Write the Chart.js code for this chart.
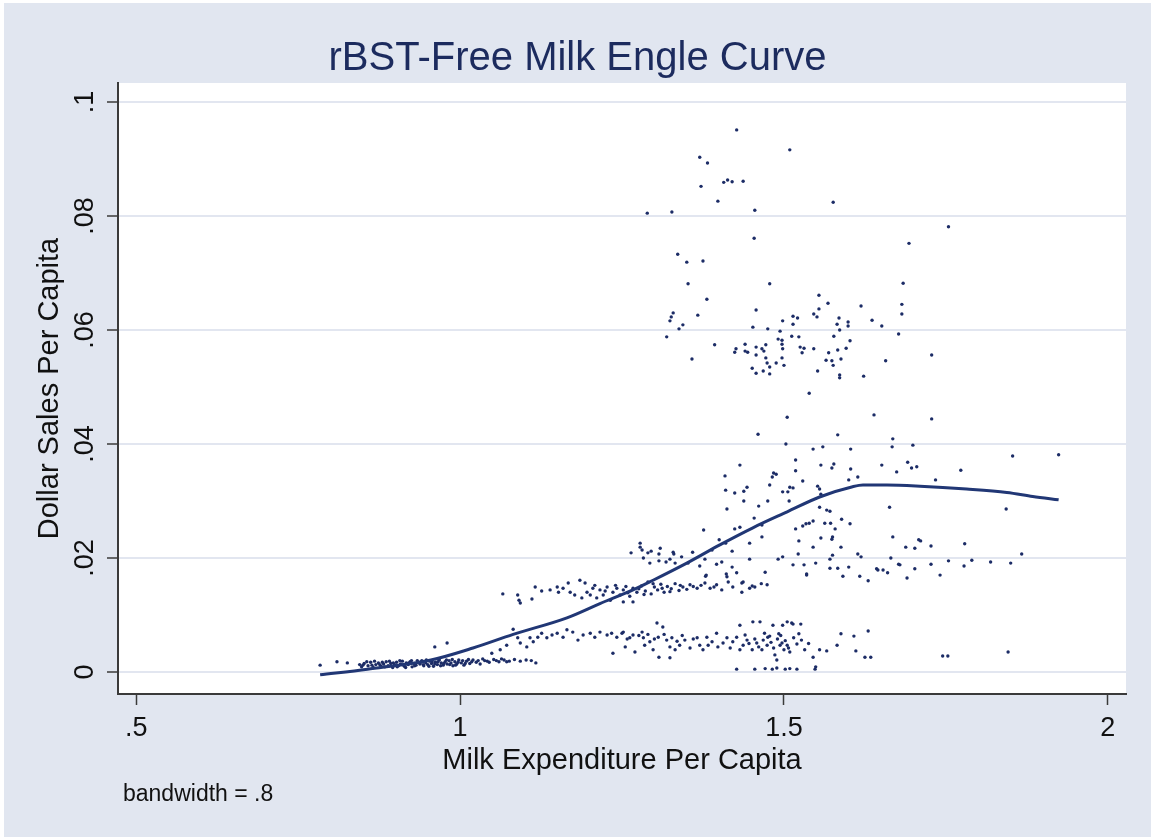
<!DOCTYPE html>
<html>
<head>
<meta charset="utf-8">
<title>rBST-Free Milk Engle Curve</title>
<script src="https://cdn.jsdelivr.net/npm/chart.js@4.4.1/dist/chart.umd.min.js"></script>
<style>
  html, body { margin: 0; padding: 0; background: #ffffff; }
  #chart { display: block; }
</style>
</head>
<body>
<canvas id="chart" width="1151" height="837"></canvas>
<script>
// scatter points (milk expenditure per capita, dollar sales per capita)
const milkExpenditure = [
  1.427,1.509,1.370,1.382,1.372,1.407,1.413,1.420,1.437,1.398,1.576,1.289,1.327,1.455,1.754,1.454,1.693,1.336,1.350,1.375,1.352,1.478,1.684,1.381,1.682,1.682,1.554,1.568,1.619,1.329,
  1.326,1.324,1.367,1.344,1.338,1.319,1.457,1.554,1.546,1.551,1.514,1.521,1.498,1.514,1.585,1.599,1.599,1.582,1.636,1.651,1.452,1.475,1.494,1.586,1.677,1.512,1.523,1.577,1.491,1.497,
  1.602,1.393,1.440,1.472,1.497,1.525,1.531,1.426,1.457,1.466,1.498,1.546,1.596,1.583,1.424,1.440,1.444,1.469,1.457,1.528,1.569,1.358,1.472,1.497,1.565,1.574,1.588,1.657,1.728,1.488,
  1.474,1.500,1.576,1.478,1.451,1.468,1.457,1.478,1.552,1.586,1.586,1.623,1.539,1.505,1.639,1.728,
  1.699,1.691,1.697,1.705,1.853,1.924,1.773,1.734,1.843,1.708,1.711,1.688,1.702,1.727,1.779,1.867,1.754,1.790,1.819,1.850,1.778,1.727,1.702,1.679,1.741,1.690,
  1.460,1.583,1.503,1.668,1.545,1.560,1.603,1.667,1.432,1.518,1.557,1.577,1.574,1.651,1.518,1.603,1.674,1.484,1.488,1.482,1.409,1.529,1.614,1.600,1.478,1.443,1.509,1.514,1.552,1.555,
  1.410,1.438,1.498,1.506,1.424,1.557,1.438,1.475,1.508,1.461,1.555,1.663,1.412,1.566,1.571,1.454,1.589,1.529,1.534,1.539,1.545,1.563,1.572,1.602,1.466,1.432,1.424,1.518,1.579,1.376,
  1.668,1.466,1.557,1.575,1.574,1.400,1.410,1.447,1.523,1.545,1.588,1.420,1.522,1.614,1.575,1.619,1.665,1.491,1.498,1.447,1.571,1.549,1.514,1.531,1.571,1.600,1.583,1.677,1.643,1.653,
  1.660,1.471,1.427,1.535,1.591,1.617,1.630,1.645,
  1.264,1.278,1.278,1.281,1.290,1.295,1.309,1.307,1.329,1.330,1.283,1.293,1.307,1.318,1.324,1.332,1.342,1.359,1.378,1.389,1.352,1.370,1.396,1.404,1.420,1.379,1.412,
  1.066,1.089,1.091,1.093,1.111,1.116,1.126,1.139,1.150,1.152,1.159,1.167,1.170,1.177,1.185,1.188,1.193,1.196,1.201,1.205,1.211,1.216,1.221,1.227,1.232,1.236,1.242,1.247,1.252,1.259,
  1.267,1.273,1.252,1.267,1.280,1.286,1.290,1.295,1.300,1.305,1.310,1.315,1.320,1.326,1.332,1.338,1.344,1.355,1.366,1.378,1.386,1.396,1.404,1.414,1.421,1.435,1.435,1.447,1.455,1.474,
  1.437,1.451,1.465,1.380,1.411,1.535,
  1.208,1.224,1.240,1.256,1.262,1.276,1.284,1.298,1.312,1.324,1.340,1.350,1.360,1.372,1.392,
  1.049,1.062,1.072,1.082,1.089,1.093,1.103,1.108,1.113,1.120,1.126,1.134,1.142,1.150,1.159,1.165,1.174,1.182,1.190,1.201,1.208,1.216,1.227,1.234,1.242,1.250,1.255,1.236,1.267,1.270,
  1.252,1.262,1.281,1.283,1.293,1.304,1.306,1.313,1.319,1.327,1.324,1.298,1.285,1.332,1.339,1.347,1.355,1.366,1.370,1.375,1.381,1.383,1.389,1.396,1.398,1.406,1.412,1.417,1.421,1.427,
  1.432,1.437,1.443,1.451,1.452,1.463,1.458,1.466,1.474,1.475,1.483,1.486,1.497,1.498,1.505,1.512,1.500,1.489,1.432,1.307,1.324,1.514,1.526,1.478,1.492,1.523,1.494,1.505,1.509,1.532,
  1.545,1.555,1.566,1.582,1.588,1.608,1.611,1.630,1.625,1.634,1.745,1.753,1.846,
  1.440,1.446,1.455,1.461,1.468,1.470,1.480,1.484,1.490,1.495,1.502,1.507,1.515,1.520,1.527,1.538,
  1.258,1.276,1.290,1.300,1.315,1.335,1.343,1.360,
  1.427,1.455,1.471,1.482,1.489,1.502,1.509,1.520,1.548,1.549,
  0.784,0.810,0.826,0.845,0.848,0.852,0.858,0.862,0.866,0.870,0.874,0.878,0.882,0.886,0.889,0.893,0.896,0.899,0.902,0.905,0.908,0.911,0.914,0.917,0.920,0.923,0.926,0.929,0.932,0.935,
  0.938,0.941,0.944,0.947,0.950,0.953,0.956,0.959,0.962,0.965,0.968,0.971,0.974,0.977,0.980,0.983,0.986,0.989,0.992,0.995,0.998,1.002,1.006,1.010,1.015,1.020,1.025,1.031,1.038,1.045,
  1.052,1.060,1.068,1.076,1.084,1.093,1.102,1.110,1.117,0.961,0.980,
  0.850,0.856,0.864,0.868,0.876,0.880,0.884,0.891,0.897,0.903,0.907,0.912,0.916,0.921,0.925,0.930,0.934,0.939,0.943,0.948,
  0.952,0.957,0.961,0.966,0.970,0.975,0.979,0.984,0.988,0.993,0.997,1.004,1.008,1.013,1.018,1.028,1.035,1.042,1.056,1.064,1.072
];
const dollarSales = [
  .0951,.0916,.0903,.0893,.0852,.0859,.0863,.0860,.0861,.0826,.0824,.0805,.0807,.0810,.0781,.0761,.0752,.0733,.0719,.0721,.0681,.0681,.0682,.0654,.0645,.0628,.0661,.0647,.0642,.0630,
  .0623,.0616,.0626,.0609,.0602,.0588,.0635,.0637,.0628,.0623,.0624,.0621,.0616,.0610,.0621,.0614,.0607,.0610,.0617,.0607,.0605,.0602,.0598,.0600,.0593,.0589,.0588,.0589,.0584,.0582,
  .0581,.0574,.0575,.0574,.0575,.0570,.0568,.0567,.0570,.0567,.0567,.0567,.0568,.0565,.0561,.0563,.0561,.0563,.0556,.0560,.0560,.0549,.0551,.0551,.0547,.0546,.0549,.0546,.0556,.0542,
  .0542,.0538,.0538,.0535,.0533,.0528,.0524,.0523,.0528,.0521,.0516,.0519,.0489,.0447,.0451,.0444,
  .0398,.0368,.0358,.0360,.0379,.0381,.0354,.0337,.0286,.0232,.0230,.0219,.0217,.0221,.0225,.0207,.0195,.0196,.0193,.0191,.0186,.0189,.0181,.0188,.0170,.0165,
  .0417,.0416,.0400,.0409,.0391,.0395,.0391,.0395,.0363,.0372,.0363,.0365,.0358,.0363,.0353,.0356,.0351,.0349,.0347,.0342,.0344,.0335,.0342,.0337,.0328,.0324,.0324,.0323,.0326,.0321,
  .0319,.0317,.0316,.0316,.0314,.0312,.0300,.0300,.0300,.0291,.0289,.0289,.0286,.0284,.0282,.0270,.0268,.0256,.0260,.0261,.0265,.0261,.0261,.0260,.0258,.0254,.0251,.0251,.0251,.0249,
  .0237,.0237,.0235,.0237,.0233,.0232,.0226,.0226,.0230,.0219,.0219,.0212,.0207,.0207,.0205,.0202,.0200,.0198,.0202,.0198,.0198,.0191,.0188,.0188,.0182,.0184,.0182,.0189,.0181,.0179,
  .0174,.0175,.0174,.0172,.0168,.0168,.0160,.0179,
  .0209,.0226,.0219,.0214,.0209,.0212,.0217,.0207,.0210,.0207,.0200,.0191,.0195,.0193,.0198,.0191,.0202,.0210,.0198,.0214,.0191,.0186,.0189,.0193,.0184,.0168,.0167,
  .0137,.0135,.0126,.0121,.0128,.0149,.0142,.0144,.0149,.0140,.0147,.0156,.0140,.0135,.0161,.0130,.0156,.0140,.0135,.0147,.0130,.0144,.0135,.0149,.0126,.0140,.0147,.0135,.0144,.0139,
  .0147,.0140,.0123,.0123,.0151,.0142,.0158,.0137,.0149,.0144,.0154,.0140,.0150,.0146,.0155,.0143,.0149,.0153,.0147,.0156,.0147,.0153,.0144,.0158,.0149,.0140,.0156,.0147,.0149,.0153,
  .0158,.0151,.0155,.0170,.0172,.0170,
  .0152,.0142,.0152,.0150,.0133,.0146,.0136,.0155,.0147,.0141,.0152,.0145,.0150,.0152,.0149,
  .0033,.0039,.0047,.0075,.0060,.0051,.0044,.0060,.0053,.0061,.0068,.0060,.0065,.0068,.0061,.0074,.0070,.0056,.0065,.0068,.0061,.0070,.0065,.0068,.0061,.0068,.0044,.0033,.0065,.0035,
  .0070,.0060,.0070,.0060,.0053,.0086,.0061,.0079,.0056,.0060,.0044,.0039,.0047,.0039,.0047,.0056,.0042,.0060,.0047,.0039,.0061,.0047,.0053,.0068,.0044,.0051,.0060,.0042,.0053,.0061,
  .0039,.0047,.0056,.0039,.0088,.0088,.0051,.0039,.0047,.0061,.0082,.0030,.0051,.0082,.0088,.0086,.0039,.0021,.0082,.0026,.0025,.0084,.0084,.0063,.0067,.0067,.0047,.0047,.0035,.0039,
  .0026,.0039,.0037,.0047,.0067,.0063,.0037,.0072,.0026,.0026,.0028,.0028,.0035,
  .0065,.0050,.0058,.0044,.0056,.0068,.0052,.0042,.0058,.0064,.0055,.0042,.0060,.0049,.0056,.0050,
  .0058,.0064,.0066,.0058,.0066,.0054,.0064,.0058,
  .0005,.0005,.0006,.0005,.0007,.0005,.0006,.0005,.0005,.0009,
  .0012,.0018,.0016,.0013,.0009,.0015,.0011,.0017,.0008,.0013,.0016,.0010,.0014,.0018,.0011,.0015,.0008,.0013,.0017,.0011,.0014,.0019,.0010,.0016,.0013,.0018,.0009,.0015,.0012,.0017,
  .0014,.0020,.0011,.0016,.0013,.0019,.0015,.0010,.0017,.0013,.0021,.0016,.0012,.0018,.0014,.0020,.0016,.0011,.0018,.0014,.0021,.0016,.0012,.0019,.0015,.0021,.0017,.0014,.0020,.0017,
  .0022,.0018,.0021,.0019,.0022,.0019,.0021,.0020,.0016,.0044,.0051,
  .0012,.0018,.0012,.0019,.0013,.0017,.0009,.0019,.0016,.0009,.0020,.0013,.0008,.0016,.0020,.0011,.0020,.0017,.0013,.0021,
  .0010,.0018,.0014,.0018,.0011,.0015,.0021,.0013,.0022,.0012,.0017,.0020,.0015,.0022,.0018,.0020,.0023,.0019,.0020,.0023,.0018
];

// lowess smooth (bandwidth .8)
const lowessX = [0.784,0.857,0.955,1.020,1.082,1.165,1.216,1.267,1.298,1.350,1.401,1.452,1.505,1.555,1.606,1.622,1.659,1.710,1.782,1.844,1.884,1.924];
const lowessY = [-0.0005,0.0005,0.0021,0.0042,0.0066,0.0095,0.0120,0.0144,0.0161,0.0191,0.0223,0.0253,0.0281,0.0307,0.0325,0.0328,0.0328,0.0326,0.0321,0.0315,0.0308,0.0302];

const xTickValues = [0.5, 1, 1.5, 2];
const xTickLabels = ['.5', '1', '1.5', '2'];
const yTickValues = [0, 0.02, 0.04, 0.06, 0.08, 0.1];
const yTickLabels = ['0', '.02', '.04', '.06', '.08', '.1'];

const FONT = "'Liberation Sans', Arial, Helvetica, sans-serif";
Chart.defaults.font.family = FONT;

const scatterPoints = milkExpenditure.map((x, i) => ({ x: x, y: dollarSales[i] }));
const lowessPoints = lowessX.map((x, i) => ({ x: x, y: lowessY[i] }));

// background, plot region, note under the axis
const stataLook = {
  id: 'stataLook',
  beforeDraw(chart) {
    const ctx = chart.ctx;
    const a = chart.chartArea;
    ctx.save();
    ctx.fillStyle = '#ffffff';
    ctx.fillRect(0, 0, chart.width, chart.height);
    ctx.fillStyle = '#e1e6f0';
    ctx.fillRect(4, 3, chart.width - 4, chart.height - 3);
    ctx.fillStyle = '#ffffff';
    ctx.fillRect(a.left, a.top, a.right - a.left, a.bottom - a.top);
    ctx.restore();
  },
  afterDraw(chart) {
    const ctx = chart.ctx;
    ctx.save();
    ctx.fillStyle = '#111111';
    ctx.font = '23px ' + FONT;
    ctx.textAlign = 'left';
    ctx.textBaseline = 'alphabetic';
    ctx.fillText('bandwidth = .8', 123, 801);
    ctx.restore();
  }
};

new Chart(document.getElementById('chart'), {
  type: 'scatter',
  data: {
    datasets: [
      {
        type: 'line',
        data: lowessPoints,
        borderColor: '#213775',
        borderWidth: 3,
        pointRadius: 0,
        fill: false,
        cubicInterpolationMode: 'monotone',
        order: 0
      },
      {
        data: scatterPoints,
        backgroundColor: '#1c2c66',
        borderWidth: 0,
        pointRadius: 1.7,
        order: 1
      }
    ]
  },
  options: {
    responsive: false,
    animation: false,
    layout: { padding: { left: 29, right: 25, top: 0, bottom: 56 } },
    plugins: {
      legend: { display: false },
      tooltip: { enabled: false },
      title: {
        display: true,
        text: 'rBST-Free Milk Engle Curve',
        color: '#1c2b5e',
        font: { size: 40, weight: 'normal' },
        padding: { top: 35, bottom: 0 }
      }
    },
    scales: {
      x: {
        type: 'linear',
        min: 0.472,
        max: 2.028,
        afterBuildTicks: s => { s.ticks = xTickValues.map(v => ({ value: v })); },
        afterFit: s => { s.height = 87; },
        grid: { drawOnChartArea: false, tickLength: 11, tickColor: '#3a3a3a', tickWidth: 1.5 },
        border: { color: '#3a3a3a', width: 2 },
        ticks: {
          autoSkip: false,
          maxRotation: 0,
          padding: 7,
          color: '#111111',
          font: { size: 27 },
          callback: (v, i) => xTickLabels[i]
        },
        title: {
          display: true,
          text: 'Milk Expenditure Per Capita',
          color: '#111111',
          font: { size: 29 },
          padding: { top: 4, bottom: 3 }
        }
      },
      y: {
        type: 'linear',
        min: -0.00386,
        max: 0.10333,
        afterBuildTicks: s => { s.ticks = yTickValues.map(v => ({ value: v })); },
        afterFit: s => { s.width = 89; },
        grid: { color: '#e2e6f0', lineWidth: 2, tickLength: 11, tickColor: '#3a3a3a', tickWidth: 1.5 },
        border: { color: '#3a3a3a', width: 2 },
        ticks: {
          autoSkip: false,
          minRotation: 90,
          maxRotation: 90,
          crossAlign: 'center',
          padding: 3,
          color: '#111111',
          font: { size: 27 },
          callback: (v, i) => yTickLabels[i]
        },
        title: {
          display: true,
          text: 'Dollar Sales Per Capita',
          color: '#111111',
          font: { size: 29 },
          padding: { top: 4, bottom: 4 }
        }
      }
    }
  },
  plugins: [stataLook]
});
</script>
</body>
</html>
